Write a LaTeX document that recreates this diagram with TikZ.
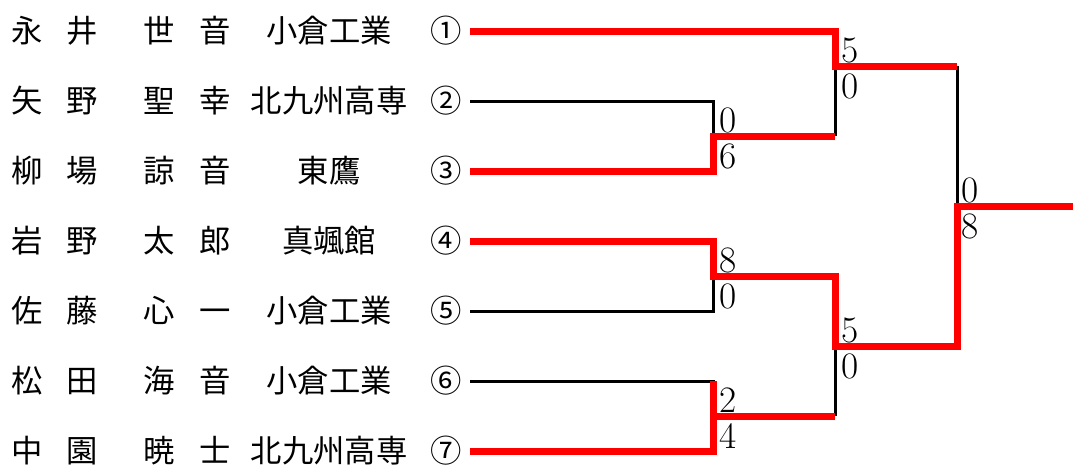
\documentclass[tikz,border=0pt]{standalone}
\usepackage{fontspec}
\newfontfamily\jpfont{Noto Sans CJK JP}
\usetikzlibrary{positioning,calc}
\definecolor{winred}{HTML}{FF0000}
\tikzset{
  win/.style={line width=5.25pt,winred},
  lose/.style={line width=2.25pt,black},
  entry/.style={font=\jpfont\fontsize{23.5}{28}\selectfont,inner sep=0pt,
    text height=20.7pt,text depth=2.8pt},
  score/.style={font=\fontsize{28}{32}\selectfont,inner sep=0pt,anchor=base west}
}

\begin{document}
\begin{tikzpicture}[x=0.75pt,y=-0.75pt]
\useasboundingbox (0,0) rectangle (1073,464);
% players
\foreach \i/\famA/\famB/\givA/\givB/\school/\seed in {
  1/永/井/世/音/小倉工業/①,
  2/矢/野/聖/幸/北九州高専/②,
  3/柳/場/諒/音/東鷹/③,
  4/岩/野/太/郎/真颯館/④,
  5/佐/藤/心/一/小倉工業/⑤,
  6/松/田/海/音/小倉工業/⑥,
  7/中/園/暁/士/北九州高専/⑦}{
  \node[entry] (fa\i) at (27,{70*\i-39}) {\famA};
  \node[entry] (fb\i) at (82,{70*\i-39}) {\famB};
  \node[entry] (ga\i) at (159,{70*\i-39}) {\givA};
  \node[entry] (gb\i) at (215,{70*\i-39}) {\givB};
  \node[entry] (sc\i) at (329,{70*\i-39}) {\school};
  \node[entry] (n\i) at (446,{70*\i-39}) {\seed};
  \coordinate (s\i) at (470,{70*\i-39});
}
% junctions
\coordinate (a1) at (713,136);
\coordinate (a2) at (713,276);
\coordinate (a3) at (713,416);
\coordinate (b1) at (835,66);
\coordinate (b2) at (835,346);
\coordinate (c) at (957,206);
\coordinate (fin) at (1073,206);
% losers
\draw[lose] (s2) -| (a1);
\draw[lose] (b1 |- a1) -- (b1);
\draw[lose] (s5) -| (a2);
\draw[lose] (s6) -| (a3);
\draw[lose] (b2 |- a3) -- (b2);
\draw[lose] (c |- b1) -- (c);
% winners
\draw[win] (s1) -| (b1) -- (c |- b1);
\draw[win] (s3) -| (a1) -- (b1 |- a1);
\draw[win] (s4) -| (a2) -- (b2 |- a2) -- (b2) -- (c |- b2) -- (c) -- (fin);
\draw[win] (s7) -| (a3 |- s6);
\draw[win] (a3) -- (b2 |- a3);
% scores
\node[score] (t1) at ($(a1)+(6,-4)$) {0};
\node[score] (u1) at ($(a1)+(6,32)$) {6};
\node[score] (t2) at ($(a2)+(6,-4)$) {8};
\node[score] (u2) at ($(a2)+(6,32)$) {0};
\node[score] (t3) at ($(a3)+(6,-4)$) {2};
\node[score] (u3) at ($(a3)+(6,32)$) {4};
\node[score] (t4) at ($(b1)+(6,-4)$) {5};
\node[score] (u4) at ($(b1)+(6,32)$) {0};
\node[score] (t5) at ($(b2)+(6,-4)$) {5};
\node[score] (u5) at ($(b2)+(6,32)$) {0};
\node[score] (t6) at ($(c)+(4,-4)$) {0};
\node[score] (u6) at ($(c)+(4,32)$) {8};
\end{tikzpicture}
\end{document}
